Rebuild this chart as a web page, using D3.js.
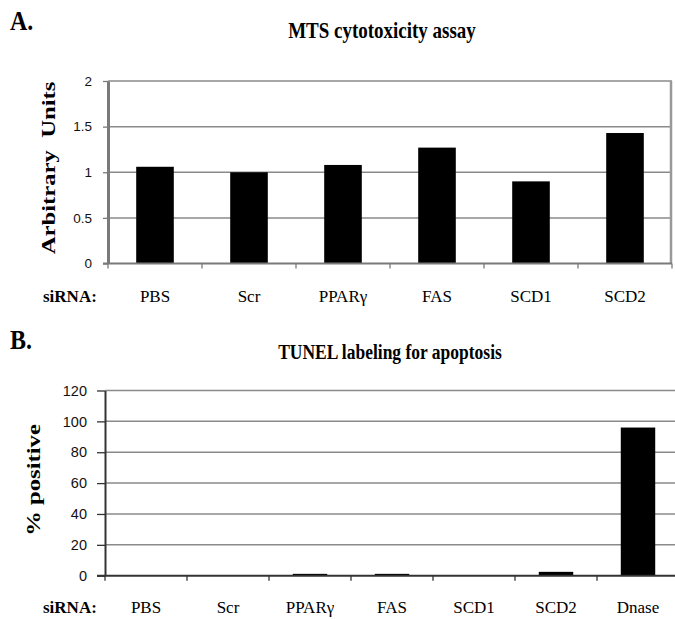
<!DOCTYPE html>
<html>
<head>
<meta charset="utf-8">
<script src="https://cdn.jsdelivr.net/npm/d3@7"></script>
<style>
  body { margin: 0; background: #fff; }
</style>
</head>
<body>
<svg id="chart" width="675" height="619"></svg>
<script>
// panel A: MTS cytotoxicity
const mtsCats = ["PBS", "Scr", "PPARγ", "FAS", "SCD1", "SCD2"];
const mtsValues = [1.06, 1.0, 1.08, 1.27, 0.90, 1.43];
const mtsTicks = [0, 0.5, 1, 1.5, 2];

// panel B: TUNEL labeling
const tunelCats = ["PBS", "Scr", "PPARγ", "FAS", "SCD1", "SCD2", "Dnase"];
const tunelValues = [0, 0, 1.2, 1.2, 0.3, 2.5, 96];
const tunelTicks = [0, 20, 40, 60, 80, 100, 120];

const SERIF = 'Liberation Serif';
const SANS = 'Liberation Sans';

const svg = d3.select('#chart');

function panel(opts) {
  const g = svg.append('g');
  const x = d3.scaleBand()
    .domain(opts.cats)
    .range([opts.left, opts.right])
    .paddingInner(opts.padIn)
    .paddingOuter(opts.padIn / 2);
  const y = d3.scaleLinear()
    .domain([0, opts.max])
    .range([opts.bottom, opts.top]);

  // gridlines
  g.append('g')
    .selectAll('line')
    .data(opts.ticks.filter(t => t > 0))
    .join('line')
    .attr('x1', opts.left)
    .attr('x2', opts.right)
    .attr('y1', d => y(d))
    .attr('y2', d => y(d))
    .attr('stroke', '#8a8a8a')
    .attr('stroke-width', 1.5);

  if (opts.border) {
    g.append('line')
      .attr('x1', opts.right - 1).attr('x2', opts.right - 1)
      .attr('y1', y(opts.max)).attr('y2', y(0))
      .attr('stroke', '#999').attr('stroke-width', 2.5);
  }

  // bars
  g.append('g')
    .selectAll('rect')
    .data(opts.values)
    .join('rect')
    .attr('x', (d, i) => x(opts.cats[i]))
    .attr('width', x.bandwidth())
    .attr('y', d => y(d))
    .attr('height', d => y(0) - y(d))
    .attr('fill', '#000');

  // y axis
  const yAxis = g.append('g')
    .attr('transform', `translate(${opts.left},0)`)
    .call(d3.axisLeft(y).tickValues(opts.ticks).tickFormat(d3.format('~g'))
      .tickSize(opts.tickLen).tickSizeOuter(0).tickPadding(opts.tickPad));
  yAxis.select('.domain').attr('stroke', opts.axisColor).attr('stroke-width', opts.axisWidth);
  yAxis.selectAll('.tick line').attr('stroke', opts.axisColor).attr('stroke-width', 1.3);
  yAxis.selectAll('text')
    .attr('font-family', SANS)
    .attr('font-size', opts.tickFont)
    .attr('fill', '#111');

  // x axis line + boundary ticks
  g.append('line')
    .attr('x1', opts.left - opts.tickLen).attr('x2', opts.right)
    .attr('y1', y(0)).attr('y2', y(0))
    .attr('stroke', opts.axisColor).attr('stroke-width', 2);
  g.append('g')
    .selectAll('line')
    .data(d3.range(opts.cats.length + 1))
    .join('line')
    .attr('x1', i => opts.left + i * x.step())
    .attr('x2', i => opts.left + i * x.step())
    .attr('y1', y(0))
    .attr('y2', y(0) + 5)
    .attr('stroke', opts.axisColor)
    .attr('stroke-width', 1.3);

  // category labels
  g.append('g')
    .selectAll('text')
    .data(opts.cats)
    .join('text')
    .attr('font-family', SERIF)
    .attr('x', d => x(d) + x.bandwidth() / 2)
    .attr('y', opts.labelY)
    .attr('text-anchor', 'middle')
    .attr('font-size', 17)
    .text(d => d);

  g.append('text')
    .attr('font-family', SERIF)
    .attr('x', 43)
    .attr('y', opts.labelY)
    .attr('font-size', 17)
    .attr('font-weight', 'bold')
    .text('siRNA:');

  // y label (the figure is slightly stretched vertically)
  g.append('text')
    .attr('font-family', SERIF)
    .attr('transform', `translate(${opts.yLabelX},${opts.yLabelY}) scale(1,1.3) rotate(-90)`)
    .attr('text-anchor', 'middle')
    .attr('font-size', 19)
    .attr('font-weight', 'bold')
    .style('white-space', 'pre')
    .text(opts.yLabel);

  // titles
  g.append('text')
    .attr('font-family', SERIF)
    .attr('transform', `translate(10,${opts.letterY}) scale(1,1.15)`)
    .attr('font-size', 24)
    .attr('font-weight', 'bold')
    .text(opts.letter);

  g.append('text')
    .attr('font-family', SERIF)
    .attr('transform', `translate(${opts.titleX},${opts.titleY}) scale(1,1.2)`)
    .attr('text-anchor', 'middle')
    .attr('font-size', opts.titleSize)
    .attr('font-weight', 'bold')
    .text(opts.title);
}

panel({
  cats: mtsCats, values: mtsValues, ticks: mtsTicks, max: 2,
  left: 108, right: 672, top: 81, bottom: 263.5, padIn: 0.6,
  tickLen: 5, tickPad: 11, tickFont: 13.5, axisColor: '#7a7a7a', axisWidth: 3,
  border: true, labelY: 302, yLabel: 'Arbitrary  Units', yLabelX: 55, yLabelY: 168,
  letter: 'A.', letterY: 30, title: 'MTS cytotoxicity assay', titleX: 382, titleY: 38, titleSize: 19
});

panel({
  cats: tunelCats, values: tunelValues, ticks: tunelTicks, max: 120,
  left: 105, right: 679, top: 390.5, bottom: 575.7, padIn: 0.58,
  tickLen: 8, tickPad: 10, tickFont: 14.5, axisColor: '#333', axisWidth: 2,
  border: false, labelY: 613, yLabel: '% positive', yLabelX: 40, yLabelY: 480,
  letter: 'B.', letterY: 349, title: 'TUNEL labeling for apoptosis', titleX: 390, titleY: 359, titleSize: 17.5
});
</script>
</body>
</html>
